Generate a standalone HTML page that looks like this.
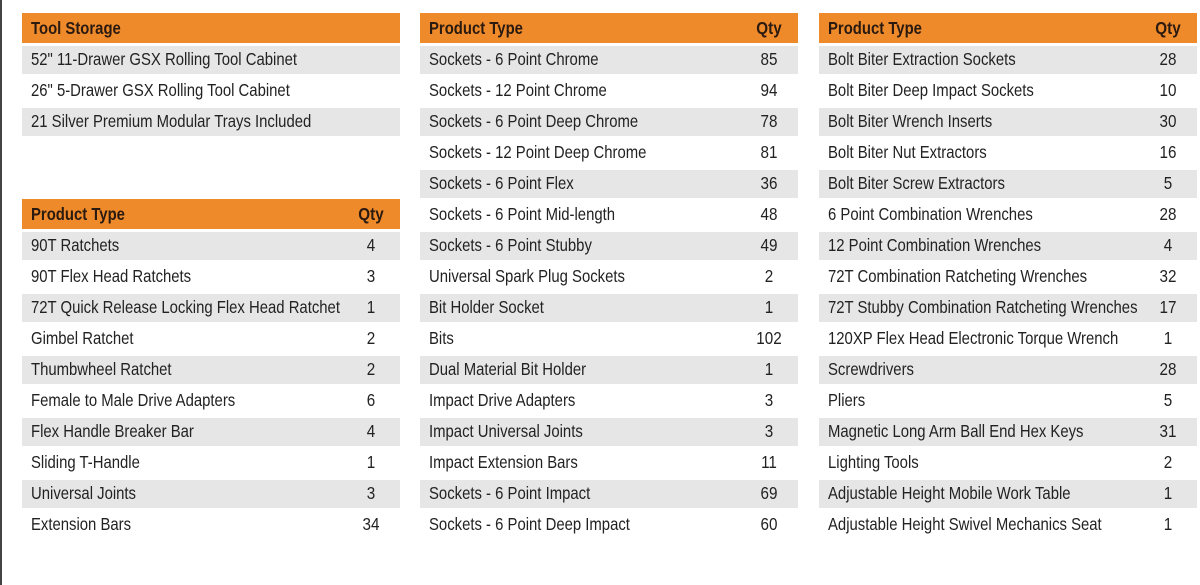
<!DOCTYPE html>
<html><head><meta charset="utf-8"><style>
body{margin:0;width:1200px;height:585px;background:#fff;position:relative;overflow:hidden;font-family:"Liberation Sans",sans-serif;font-size:17.5px;color:#222}
.edge{position:absolute;left:0;top:0;width:2px;height:585px;background:#444}
.t{position:absolute;top:13px;width:378px}
.h,.r{position:relative;white-space:nowrap}
.h{height:30px;line-height:30px;background:#ef8a2a;margin-bottom:1px;font-weight:bold;color:#2a1a10}
.r{height:31px;line-height:30px}
.g{background:linear-gradient(#fff 2px,#e6e6e7 2px,#e6e6e7 30px,#fff 30px)}
.n{position:absolute;left:9px;display:inline-block;transform:scaleX(.85);transform-origin:0 50%}
.q{position:absolute;left:329px;width:40px;text-align:center;display:inline-block;transform:scaleX(.87)}
</style></head><body>
<div class="edge"></div>
<div class="t" style="left:22px">
<div class="h"><span class="n">Tool Storage</span></div>
<div class="r g"><span class="n">52" 11-Drawer GSX Rolling Tool Cabinet</span></div>
<div class="r"><span class="n">26" 5-Drawer GSX Rolling Tool Cabinet</span></div>
<div class="r g"><span class="n">21 Silver Premium Modular Trays Included</span></div>
<div class="r"></div><div class="r"></div>
<div class="h"><span class="n">Product Type</span><span class="q">Qty</span></div>
<div class="r g"><span class="n">90T Ratchets</span><span class="q">4</span></div>
<div class="r"><span class="n">90T Flex Head Ratchets</span><span class="q">3</span></div>
<div class="r g"><span class="n">72T Quick Release Locking Flex Head Ratchet</span><span class="q">1</span></div>
<div class="r"><span class="n">Gimbel Ratchet</span><span class="q">2</span></div>
<div class="r g"><span class="n">Thumbwheel Ratchet</span><span class="q">2</span></div>
<div class="r"><span class="n">Female to Male Drive Adapters</span><span class="q">6</span></div>
<div class="r g"><span class="n">Flex Handle Breaker Bar</span><span class="q">4</span></div>
<div class="r"><span class="n">Sliding T-Handle</span><span class="q">1</span></div>
<div class="r g"><span class="n">Universal Joints</span><span class="q">3</span></div>
<div class="r"><span class="n">Extension Bars</span><span class="q">34</span></div>
</div>
<div class="t" style="left:420px">
<div class="h"><span class="n">Product Type</span><span class="q">Qty</span></div>
<div class="r g"><span class="n">Sockets - 6 Point Chrome</span><span class="q">85</span></div>
<div class="r"><span class="n">Sockets - 12 Point Chrome</span><span class="q">94</span></div>
<div class="r g"><span class="n">Sockets - 6 Point Deep Chrome</span><span class="q">78</span></div>
<div class="r"><span class="n">Sockets - 12 Point Deep Chrome</span><span class="q">81</span></div>
<div class="r g"><span class="n">Sockets - 6 Point Flex</span><span class="q">36</span></div>
<div class="r"><span class="n">Sockets - 6 Point Mid-length</span><span class="q">48</span></div>
<div class="r g"><span class="n">Sockets - 6 Point Stubby</span><span class="q">49</span></div>
<div class="r"><span class="n">Universal Spark Plug Sockets</span><span class="q">2</span></div>
<div class="r g"><span class="n">Bit Holder Socket</span><span class="q">1</span></div>
<div class="r"><span class="n">Bits</span><span class="q">102</span></div>
<div class="r g"><span class="n">Dual Material Bit Holder</span><span class="q">1</span></div>
<div class="r"><span class="n">Impact Drive Adapters</span><span class="q">3</span></div>
<div class="r g"><span class="n">Impact Universal Joints</span><span class="q">3</span></div>
<div class="r"><span class="n">Impact Extension Bars</span><span class="q">11</span></div>
<div class="r g"><span class="n">Sockets - 6 Point Impact</span><span class="q">69</span></div>
<div class="r"><span class="n">Sockets - 6 Point Deep Impact</span><span class="q">60</span></div>
</div>
<div class="t" style="left:819px">
<div class="h"><span class="n">Product Type</span><span class="q">Qty</span></div>
<div class="r g"><span class="n">Bolt Biter Extraction Sockets</span><span class="q">28</span></div>
<div class="r"><span class="n">Bolt Biter Deep Impact Sockets</span><span class="q">10</span></div>
<div class="r g"><span class="n">Bolt Biter Wrench Inserts</span><span class="q">30</span></div>
<div class="r"><span class="n">Bolt Biter Nut Extractors</span><span class="q">16</span></div>
<div class="r g"><span class="n">Bolt Biter Screw Extractors</span><span class="q">5</span></div>
<div class="r"><span class="n">6 Point Combination Wrenches</span><span class="q">28</span></div>
<div class="r g"><span class="n">12 Point Combination Wrenches</span><span class="q">4</span></div>
<div class="r"><span class="n">72T Combination Ratcheting Wrenches</span><span class="q">32</span></div>
<div class="r g"><span class="n">72T Stubby Combination Ratcheting Wrenches</span><span class="q">17</span></div>
<div class="r"><span class="n">120XP Flex Head Electronic Torque Wrench</span><span class="q">1</span></div>
<div class="r g"><span class="n">Screwdrivers</span><span class="q">28</span></div>
<div class="r"><span class="n">Pliers</span><span class="q">5</span></div>
<div class="r g"><span class="n">Magnetic Long Arm Ball End Hex Keys</span><span class="q">31</span></div>
<div class="r"><span class="n">Lighting Tools</span><span class="q">2</span></div>
<div class="r g"><span class="n">Adjustable Height Mobile Work Table</span><span class="q">1</span></div>
<div class="r"><span class="n">Adjustable Height Swivel Mechanics Seat</span><span class="q">1</span></div>
</div>
</body></html>
